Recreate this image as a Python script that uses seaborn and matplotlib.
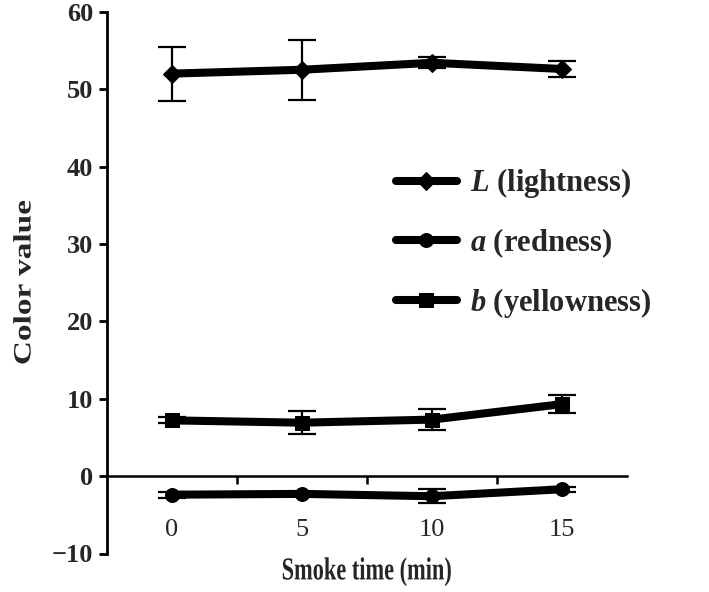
import numpy as np
import pandas as pd
import matplotlib
matplotlib.use("Agg")
import matplotlib.pyplot as plt
import seaborn as sns
from matplotlib.patheffects import AbstractPathEffect
from matplotlib.transforms import Affine2D

# ---- data ----
times = [0, 5, 10, 15]
L_vals = [52.0, 52.5, 53.4, 52.6]
L_err = [3.5, 3.9, 0.7, 1.0]
a_vals = [-2.4, -2.3, -2.6, -1.7]
a_err = [0.4, 0.3, 0.9, 0.3]
b_vals = [7.2, 6.9, 7.3, 9.3]
b_err = [0.4, 1.5, 1.4, 1.2]
series_names = ["L", "a", "b"]
legend_labels = [r"$\mathit{L}$ (lightness)", r"$\mathit{a}$ (redness)", r"$\mathit{b}$ (yellowness)"]
y_ticks = [-10, 0, 10, 20, 30, 40, 50, 60]


class Squeeze(AbstractPathEffect):
    """Scale a text path about its own centre in screen space."""
    def __init__(self, sx=1.0, sy=1.0):
        super().__init__()
        self.sx, self.sy = sx, sy

    def draw_path(self, renderer, gc, tpath, affine, rgbFace=None):
        ext = tpath.get_extents(affine)
        cx, cy = (ext.x0 + ext.x1) / 2, (ext.y0 + ext.y1) / 2
        new = affine + Affine2D().translate(-cx, -cy).scale(self.sx, self.sy).translate(cx, cy)
        renderer.draw_path(gc, tpath, new, rgbFace)


sns.set_theme(style="white")
plt.rcParams["font.family"] = ["Liberation Serif", "DejaVu Serif"]
plt.rcParams["mathtext.fontset"] = "custom"
plt.rcParams["mathtext.it"] = "Liberation Serif:italic:bold"
plt.rcParams["mathtext.rm"] = "Liberation Serif:bold"

df = pd.DataFrame({
    "time": times * 3,
    "value": L_vals + a_vals + b_vals,
    "err": L_err + a_err + b_err,
    "param": sum([[s] * len(times) for s in series_names], []),
})

fig = plt.figure(figsize=(7.09, 5.92), dpi=100)
ax = fig.add_axes([107 / 709, 1 - 553.5 / 592, 520 / 709, (553.5 - 11.7) / 592])

markers = {"L": "D", "a": "o", "b": "s"}
msizes = {"L": 9.5, "a": 10, "b": 9.5}

sns.lineplot(data=df, x="time", y="value", hue="param", style="param",
             hue_order=series_names, style_order=series_names,
             palette=["black"] * 3, markers=markers, dashes=False,
             linewidth=5.8, markersize=10, markeredgecolor="black",
             ax=ax, legend=False, zorder=3)
data_lines = list(ax.get_lines())
for line, name in zip(data_lines, series_names):
    line.set_markersize(msizes[name])

for name in series_names:
    sub = df[df["param"] == name]
    ax.errorbar(sub["time"], sub["value"], yerr=sub["err"], fmt="none",
                ecolor="black", elinewidth=1.6, capsize=10, capthick=1.6, zorder=2)

ax.set_xlim(-2.5, 17.5)
ax.set_ylim(-10, 60)

# spines
ax.spines["top"].set_visible(False)
ax.spines["right"].set_visible(False)
ax.spines["left"].set_linewidth(2)
ax.spines["left"].set_color("black")
ax.spines["bottom"].set_position(("data", 0))
ax.spines["bottom"].set_linewidth(1.8)
ax.spines["bottom"].set_color("black")

ax.set_yticks(y_ticks)
ax.set_yticklabels([str(t) if t >= 0 else "\u221210" for t in y_ticks],
                   fontsize=19, fontweight="bold")
ax.tick_params(axis="y", direction="out", length=6, width=2, color="black",
               left=True, pad=4)

# x: boundary ticks (major) and category labels (minor)
ax.set_xticks([2.5, 7.5, 12.5])
ax.set_xticklabels([])
ax.set_xticks(times, minor=True)
ax.set_xticklabels([str(t) for t in times], minor=True, fontsize=19)
ax.tick_params(axis="x", which="major", direction="out", length=6, width=1.8,
               color="black", bottom=True)
ax.tick_params(axis="x", which="minor", length=0, pad=31, bottom=True)

ax.set_xlabel("Smoke time (min)", fontsize=23, fontweight="bold")
ax.xaxis.label.set_va("center")
ax.xaxis.label.set_path_effects([Squeeze(sx=0.7)])
ax.xaxis.set_label_coords(0.5, -0.034)
ax.set_ylabel("Color value", fontsize=24, fontweight="bold")
ax.yaxis.label.set_va("center")
ax.yaxis.label.set_path_effects([Squeeze(sx=0.75)])
ax.yaxis.set_label_coords(-0.158, 0.5)

leg = ax.legend(data_lines, legend_labels, loc="center left",
                bbox_to_anchor=(0.555, 0.573), frameon=False,
                prop={"weight": "bold", "size": 22}, handlelength=2.0,
                handletextpad=0.45, labelspacing=0.85, borderpad=0,
                borderaxespad=0)

fig.savefig("out.png", dpi=100)
